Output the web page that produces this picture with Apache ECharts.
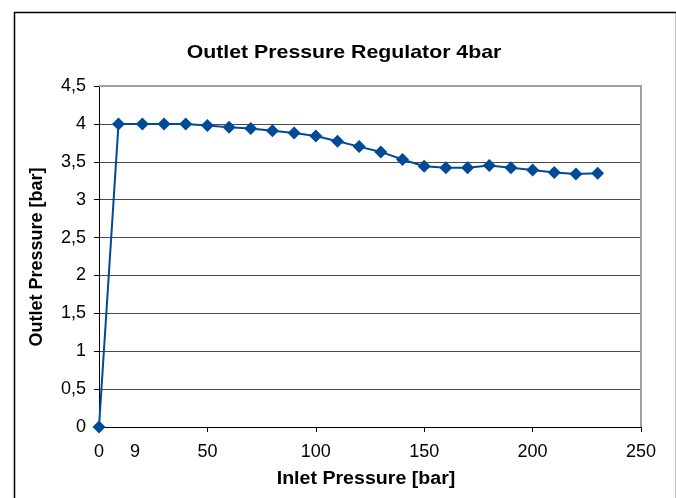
<!DOCTYPE html>
<html>
<head>
<meta charset="utf-8">
<script src="https://cdn.jsdelivr.net/npm/echarts@6/dist/echarts.min.js"></script>
<style>
  html, body { margin: 0; padding: 0; background: #fff; }
  #chart { width: 676px; height: 498px; }
</style>
</head>
<body>
<div id="chart"></div>
<script>
// Inlet pressure readings [bar]
const inletPressure = [0, 9, 20, 30, 40, 50, 60, 70, 80, 90, 100, 110, 120, 130, 140, 150, 160, 170, 180, 190, 200, 210, 220, 230];
// Measured outlet pressure [bar]
const outletPressure = [0, 4.0, 4.0, 4.0, 4.0, 3.98, 3.955, 3.94, 3.91, 3.88, 3.84, 3.77, 3.70, 3.63, 3.53, 3.44, 3.42, 3.42, 3.45, 3.42, 3.39, 3.36, 3.34, 3.35];
// Extra label on the inlet axis (set-point inlet pressure)
const inletMarkLabel = '9';

const titleText = 'Outlet Pressure Regulator 4bar';
const xTitle = 'Inlet Pressure [bar]';
const yTitle = 'Outlet Pressure [bar]';

const seriesData = inletPressure.map((x, i) => [x, outletPressure[i]]);
const FONT = 'Liberation Sans, Arial, sans-serif';
const BLUE = '#004a97';

const chart = echarts.init(document.getElementById('chart'), null, { renderer: 'canvas' });

chart.setOption({
  animation: false,
  backgroundColor: '#fff',
  grid: { left: 99, right: 35, top: 86, bottom: 71, show: false },
  xAxis: {
    type: 'value',
    min: 0, max: 250, interval: 50,
    axisLine: { show: true, onZero: false, lineStyle: { color: '#000', width: 1 } },
    axisTick: { show: true, length: 5, lineStyle: { color: '#000' } },
    axisLabel: { color: '#000', fontSize: 18, fontFamily: FONT, margin: 16 },
    splitLine: { show: false }
  },
  yAxis: {
    type: 'value',
    min: 0, max: 4.5, interval: 0.5,
    axisLine: { show: true, lineStyle: { color: '#000', width: 1 } },
    axisTick: { show: true, length: 5, lineStyle: { color: '#000' } },
    axisLabel: {
      color: '#000', fontSize: 18, fontFamily: FONT, margin: 13,
      formatter: v => String(v).replace('.', ',')
    },
    splitLine: { show: true, lineStyle: { color: '#4a4a4a', width: 1 } }
  },
  series: [{
    type: 'line',
    data: seriesData,
    clip: false,
    symbol: 'diamond',
    symbolSize: 13,
    itemStyle: { color: BLUE },
    lineStyle: { color: BLUE, width: 2 },
    z: 5
  }],
  graphic: [
    // outer frame
    { type: 'rect', left: 12, top: 10, shape: { width: 662, height: 520 },
      style: { fill: 'none', stroke: '#000', lineWidth: 1.5 }, silent: true, z: 0 },
    // plot area top / right border
    { type: 'line', shape: { x1: 99, y1: 86, x2: 642, y2: 86 },
      style: { stroke: '#a0a0a0', lineWidth: 2 }, z: 2 },
    { type: 'line', shape: { x1: 641, y1: 86, x2: 641, y2: 427 },
      style: { stroke: '#a0a0a0', lineWidth: 2 }, z: 2 },
    { type: 'text', x: 344, y: 53, scaleX: 1.12,
      style: { text: titleText, font: 'bold 19px ' + FONT, fill: '#000', textAlign: 'center', textVerticalAlign: 'middle' } },
    { type: 'text', x: 366, y: 479, scaleX: 1.12,
      style: { text: xTitle, font: 'bold 17.5px ' + FONT, fill: '#000', textAlign: 'center', textVerticalAlign: 'middle' } },
    { type: 'text', x: 37, y: 257, rotation: Math.PI / 2,
      style: { text: yTitle, font: 'bold 18px ' + FONT, fill: '#000', textAlign: 'center', textVerticalAlign: 'middle' } },
    { type: 'text', x: 135, y: 452,
      style: { text: inletMarkLabel, font: '18px ' + FONT, fill: '#000', textAlign: 'center', textVerticalAlign: 'middle' } }
  ]
});
</script>
</body>
</html>
